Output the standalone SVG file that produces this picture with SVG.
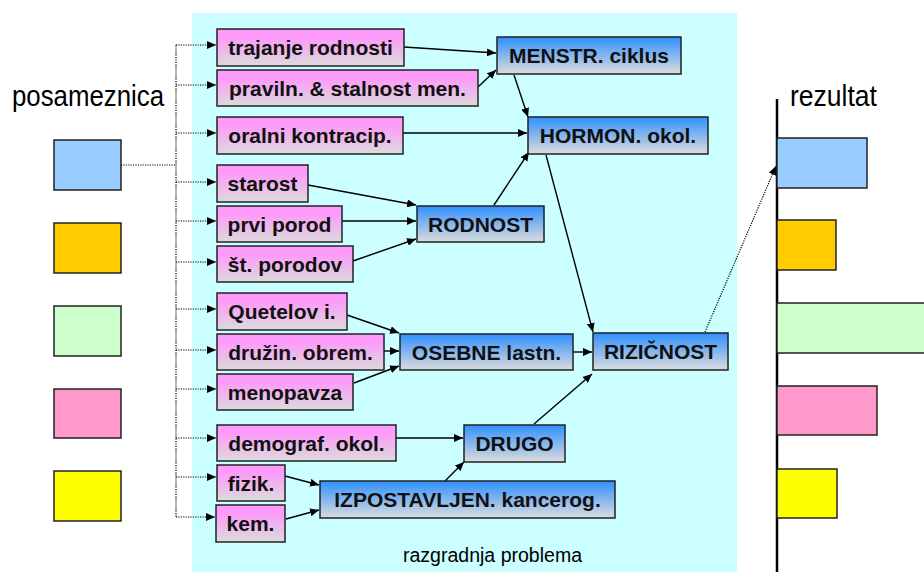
<svg xmlns="http://www.w3.org/2000/svg" width="924" height="572" viewBox="0 0 924 572">
<defs>
<linearGradient id="gp" x1="0" y1="0" x2="0" y2="1"><stop offset="0" stop-color="#FF99FF"/><stop offset="0.25" stop-color="#FC9CF8"/><stop offset="1" stop-color="#DCDCDC"/></linearGradient>
<linearGradient id="gb" x1="0" y1="0" x2="0" y2="1"><stop offset="0" stop-color="#2E90FF"/><stop offset="1" stop-color="#DCDCDC"/></linearGradient>
<marker id="ah" markerUnits="userSpaceOnUse" markerWidth="10" markerHeight="8" refX="9" refY="4" orient="auto"><path d="M0,0 L9,4 L0,8 Z" fill="#000"/></marker>
<style>
.bg{fill:#CCFFFF}
.pk{fill:url(#gp);stroke:#222;stroke-width:1.5}
.bl{fill:url(#gb);stroke:#222;stroke-width:1.5}
.sq{stroke:#222;stroke-width:1.5}
.t{font-family:"Liberation Sans",Arial,sans-serif;font-weight:bold;font-size:21px;fill:#111;text-anchor:middle}
.lbl{font-family:"Liberation Sans",Arial,sans-serif;fill:#000}
.c{stroke:#000;stroke-width:1.4;fill:none;marker-end:url(#ah)}
.d{stroke:#000;stroke-width:1.2;fill:none;stroke-dasharray:1.2 1.2}
.da{stroke:#000;stroke-width:1.2;fill:none;stroke-dasharray:1.2 1.2;marker-end:url(#ah)}
</style>
</defs>
<rect class="bg" x="192" y="13" width="545" height="559"/>

<g id="legend">
<text class="lbl" x="12" y="106" font-size="30" textLength="152" lengthAdjust="spacingAndGlyphs">posameznica</text>
<rect class="sq" x="54" y="140" width="67" height="50" fill="#99CCFF"/>
<rect class="sq" x="54" y="223" width="67" height="50" fill="#FFCC00"/>
<rect class="sq" x="54" y="306" width="67" height="50" fill="#CCFFCC"/>
<rect class="sq" x="54" y="389" width="67" height="49" fill="#FF99CC"/>
<rect class="sq" x="54" y="471" width="67" height="50" fill="#FFFF00"/>
</g>

<g id="result">
<text class="lbl" x="790" y="106" font-size="30" textLength="87" lengthAdjust="spacingAndGlyphs">rezultat</text>
<line x1="777" y1="99" x2="777" y2="572" stroke="#000" stroke-width="2.5"/>
<rect class="sq" x="777" y="138" width="90" height="50" fill="#99CCFF"/>
<rect class="sq" x="777" y="220" width="59" height="50" fill="#FFCC00"/>
<rect class="sq" x="777" y="303" width="160" height="50" fill="#CCFFCC"/>
<rect class="sq" x="777" y="386" width="100" height="49" fill="#FF99CC"/>
<rect class="sq" x="777" y="469" width="60" height="49" fill="#FFFF00"/>
</g>

<g id="connectors">
<path class="d" d="M121,165 H176 M176,45 V517"/>
<path class="da" d="M176,45 H216"/>
<path class="da" d="M176,85 H216"/>
<path class="da" d="M176,133 H216"/>
<path class="da" d="M176,182 H216"/>
<path class="da" d="M176,221 H216"/>
<path class="da" d="M176,262 H216"/>
<path class="da" d="M176,309 H216"/>
<path class="da" d="M176,350 H216"/>
<path class="da" d="M176,389 H216"/>
<path class="da" d="M176,438 H216"/>
<path class="da" d="M176,477 H216"/>
<path class="da" d="M176,517 H215"/>
<path class="da" d="M705,332 L776,166"/>
<path class="c" d="M404,47 L496,53"/>
<path class="c" d="M478,87 L496,70"/>
<path class="c" d="M514,75 L528,117"/>
<path class="c" d="M403,133 L527,133"/>
<path class="c" d="M494,205 L529,152"/>
<path class="c" d="M546,155 L593,332"/>
<path class="c" d="M308,185 L416,205"/>
<path class="c" d="M342,221 L416,221"/>
<path class="c" d="M353,261 L416,239"/>
<path class="c" d="M347,315 L399,333"/>
<path class="c" d="M384,351 L399,351"/>
<path class="c" d="M354,383 L399,366"/>
<path class="c" d="M573,352 L592,352"/>
<path class="c" d="M396,438 L463,438"/>
<path class="c" d="M445,481 L464,462"/>
<path class="c" d="M534,424 L592,374"/>
<path class="c" d="M285,476 L319,485"/>
<path class="c" d="M286,519 L319,510"/>
</g>

<g id="n-trajanje"><rect class="pk" x="217" y="29" width="187" height="37"/><text class="t" x="310.5" y="55">trajanje rodnosti</text></g>
<g id="n-pravil"><rect class="pk" x="217" y="70" width="261" height="36"/><text class="t" x="347.5" y="96">praviln. &amp; stalnost men.</text></g>
<g id="n-oralni"><rect class="pk" x="217" y="117" width="186" height="37"/><text class="t" x="310" y="143">oralni kontracip.</text></g>
<g id="n-starost"><rect class="pk" x="217" y="165" width="91" height="37"/><text class="t" x="262.5" y="191">starost</text></g>
<g id="n-prvi"><rect class="pk" x="217" y="206" width="125" height="36"/><text class="t" x="279.5" y="232">prvi porod</text></g>
<g id="n-st"><rect class="pk" x="217" y="246" width="136" height="36"/><text class="t" x="285" y="272">št. porodov</text></g>
<g id="n-quetelov"><rect class="pk" x="217" y="293" width="130" height="37"/><text class="t" x="282" y="319">Quetelov i.</text></g>
<g id="n-druzin"><rect class="pk" x="217" y="334" width="167" height="36"/><text class="t" x="300.5" y="360">družin. obrem.</text></g>
<g id="n-menopavza"><rect class="pk" x="217" y="374" width="136" height="36"/><text class="t" x="285" y="400">menopavza</text></g>
<g id="n-demograf"><rect class="pk" x="217" y="425" width="179" height="36"/><text class="t" x="306.5" y="451">demograf. okol.</text></g>
<g id="n-fizik"><rect class="pk" x="217" y="465" width="68" height="36"/><text class="t" x="251" y="491">fizik.</text></g>
<g id="n-kem"><rect class="pk" x="216" y="505" width="69" height="37"/><text class="t" x="250.5" y="531">kem.</text></g>

<g id="n-menstr"><rect class="bl" x="497" y="37" width="184" height="37"/><text class="t" x="589" y="63">MENSTR. ciklus</text></g>
<g id="n-hormon"><rect class="bl" x="528" y="117" width="180" height="37"/><text class="t" x="618" y="143">HORMON. okol.</text></g>
<g id="n-rodnost"><rect class="bl" x="417" y="206" width="127" height="36"/><text class="t" x="480.5" y="232">RODNOST</text></g>
<g id="n-osebne"><rect class="bl" x="400" y="334" width="173" height="36"/><text class="t" x="486.5" y="360">OSEBNE lastn.</text></g>
<g id="n-riz"><rect class="bl" x="593" y="333" width="135" height="37"/><text class="t" x="660.5" y="359">RIZIČNOST</text></g>
<g id="n-drugo"><rect class="bl" x="464" y="425" width="101" height="37"/><text class="t" x="514.5" y="451">DRUGO</text></g>
<g id="n-izpost"><rect class="bl" x="320" y="481" width="295" height="37"/><text class="t" x="467.5" y="507">IZPOSTAVLJEN. kancerog.</text></g>

<text class="lbl" x="403" y="562" font-size="19.5" textLength="179" lengthAdjust="spacingAndGlyphs">razgradnja problema</text>
</svg>
